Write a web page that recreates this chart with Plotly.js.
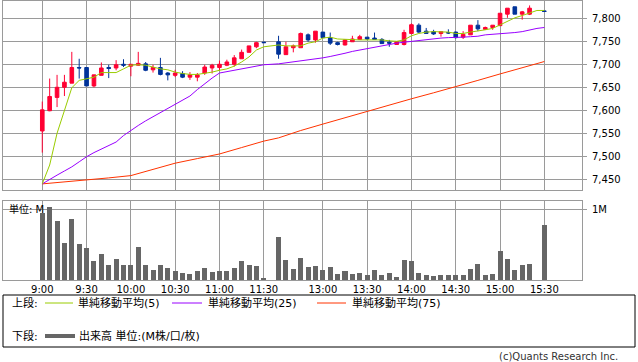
<!DOCTYPE html>
<html>
<head>
<meta charset="utf-8">
<script src="https://cdn.plot.ly/plotly-3.0.1.min.js"></script>
<style>html,body{margin:0;padding:0;background:#fff;}#chart{width:638px;height:362px;}</style>
</head>
<body>
<div id="chart"></div>
<script>
// Time slots (5-minute bars); 31 and 67 are empty slots on the axis
const slots = [0,1,2,3,4,5,6,7,8,9,10,11,12,13,14,15,16,17,18,19,20,21,22,23,24,25,26,27,28,29,30,
  32,33,34,35,36,37,38,39,40,41,42,43,44,45,46,47,48,49,50,51,52,53,54,55,56,57,58,59,60,61,62,63,64,65,66,68];
const openP  = [7555,7599,7628,7650,7659,7693,7693,7653,7676,7693,7692,7700,7696,7698,7701,7688,7693,7681,7676,7680,7672,7672,7681,7692,7693,7698,7700,7712,7726,7738,7748,
  7749,7721,7736,7736,7764,7753,7770,7758,7747,7742,7749,7754,7759,7757,7754,7748,7743,7743,7767,7785,7772,7771,7767,7769,7770,7759,7764,7785,7776,7780,7784,7809,7825,7809,7809,7816];
const highP  = [7619,7669,7677,7677,7727,7712,7693,7677,7704,7699,7709,7711,7700,7727,7705,7699,7714,7683,7688,7685,7683,7681,7699,7701,7708,7710,7720,7732,7740,7749,7749,
  7762,7749,7743,7769,7767,7772,7770,7769,7749,7754,7762,7764,7759,7769,7757,7753,7749,7775,7789,7789,7779,7775,7771,7776,7771,7772,7785,7796,7782,7785,7811,7822,7825,7816,7828,7816];
const lowP   = [7508,7598,7607,7631,7659,7669,7653,7650,7676,7670,7687,7694,7674,7697,7685,7682,7676,7665,7672,7670,7666,7663,7677,7680,7687,7696,7695,7712,7726,7735,7747,
  7712,7721,7726,7736,7749,7747,7757,7742,7741,7741,7749,7754,7753,7754,7745,7738,7742,7741,7765,7768,7767,7764,7760,7766,7756,7755,7764,7772,7775,7775,7784,7801,7809,7797,7807,7815];
const closeP = [7601,7630,7650,7661,7693,7692,7653,7677,7692,7691,7699,7698,7700,7702,7687,7693,7678,7677,7681,7672,7677,7677,7694,7698,7700,7705,7714,7726,7740,7747,7747,
  7722,7738,7740,7767,7753,7772,7758,7746,7743,7753,7755,7760,7755,7754,7745,7746,7749,7769,7786,7770,7767,7766,7771,7768,7758,7765,7785,7777,7780,7785,7811,7822,7809,7814,7822,7815];
// Volume in millions
const volume = [0.96,1.04,0.84,0.53,0.87,0.51,0.46,0.27,0.37,0.21,0.30,0.21,0.21,0.47,0.21,0.14,0.21,0.175,0.13,0.10,0.085,0.13,0.17,0.11,0.13,0.13,0.17,0.27,0.21,0.20,0.03,
  0.61,0.28,0.16,0.31,0.19,0.20,0.14,0.19,0.085,0.13,0.085,0.10,0.07,0.14,0.07,0.10,0.04,0.28,0.27,0.10,0.07,0.057,0.07,0.07,0.07,0.07,0.16,0.23,0.07,0.085,0.41,0.30,0.14,0.21,0.23,0.78];

// Moving averages
const maSlots = [0,1,2,3,4,5,6,7,8,9,10,11,12,13,14,15,16,17,18,19,20,21,22,23,24,25,26,27,28,29,30,
  32,33,34,35,36,37,38,39,40,41,42,43,44,45,46,47,48,49,50,51,52,53,54,55,56,57,58,59,60,61,62,63,64,65,66,67,68];
const ma5 = [7440,7481,7550,7597,7649,7665,7669,7672,7682,7682,7682,7690,7698,7699,7698,7694,7690,7688,7683,7680,7678,7678,7680,7683,7687,7690,7696,7705,7716,7731,7738,
  7742,7740,7740,7740,7746,7749,7757,7759,7755,7754,7754,7753,7753,7753,7753,7751,7750,7753,7762,7767,7770,7771,7771,7770,7767,7767,7770,7772,7775,7778,7786,7793,7801,7806,7811,7817,7817];
const ma25 = [7440,7450,7459,7468,7477,7488,7499,7508,7516,7524,7531,7545,7557,7567,7577,7586,7595,7603,7612,7621,7631,7645,7658,7670,7681,7684,7687,7690,7693,7696,7699,
  7701,7703,7705,7707,7709,7712,7714,7717,7720,7724,7728,7731,7734,7737,7741,7744,7746,7748,7750,7752,7753,7755,7757,7758,7758,7759,7760,7761,7764,7765,7766,7767,7769,7771,7775,7778,7780];
const ma75Slots = [0,3,6,9,12,15,18,21,24,27,30,32,35,38,41,44,47,50,53,56,59,62,65,68];
const ma75 = [7440,7444,7449,7453,7458,7471,7485,7495,7505,7519,7533,7540,7556,7570,7584,7598,7612,7625,7638,7651,7665,7679,7692,7706];

const tickSlots = [0,6,12,18,24,30,38,44,50,56,62,68];
const tickLabels = ['9:00','9:30','10:00','10:30','11:00','11:30','13:00','13:30','14:00','14:30','15:00','15:30'];
const priceTicks = [7450,7500,7550,7600,7650,7700,7750,7800];

const FONT = 'DejaVu Sans, Noto Sans CJK JP, sans-serif';
const GRID = '#9a9a9a';
// pixel -> paper helpers (plot area x: 3..582, y: 1..280)
const px = x => (x - 3) / 579;
const py = y => (280 - y) / 279;

const traces = [
  {type:'candlestick', x:slots, open:openP, high:highP, low:lowP, close:closeP, xaxis:'x', yaxis:'y',
   increasing:{line:{color:'#ff0033', width:1}, fillcolor:'#ff0033'},
   decreasing:{line:{color:'#003399', width:1}, fillcolor:'#003399'},
   whiskerwidth:0, hoverinfo:'skip'},
  {type:'scatter', mode:'lines', x:ma75Slots, y:ma75, xaxis:'x', yaxis:'y', line:{color:'#ff3300', width:1}, hoverinfo:'skip'},
  {type:'scatter', mode:'lines', x:maSlots, y:ma25, xaxis:'x', yaxis:'y', line:{color:'#9900ff', width:1}, hoverinfo:'skip'},
  {type:'scatter', mode:'lines', x:maSlots, y:ma5, xaxis:'x', yaxis:'y', line:{color:'#99cc00', width:1}, hoverinfo:'skip'},
  {type:'bar', x:slots, y:volume, xaxis:'x2', yaxis:'y2', width:0.68, marker:{color:'#666666', line:{width:0}}, hoverinfo:'skip'}
];

const xr = [-5.32, 73.1];
const axCommon = {showgrid:true, gridcolor:GRID, gridwidth:1, showline:true, mirror:true, linecolor:GRID, linewidth:1, zeroline:false, fixedrange:true};

const layout = {
  width:638, height:362,
  margin:{l:3, r:56, t:1, b:82, pad:0},
  paper_bgcolor:'#ffffff', plot_bgcolor:'#ffffff',
  showlegend:false,
  font:{family:FONT, size:10, color:'#000'},
  bargap:0,
  xaxis: Object.assign({}, axCommon, {domain:[0,1], anchor:'y', range:xr, tickmode:'array', tickvals:tickSlots, showticklabels:false, ticks:'', rangeslider:{visible:false}}),
  yaxis: Object.assign({}, axCommon, {domain:[py(190),1], anchor:'x', side:'right', range:[7426.7,7837.6], tickmode:'array', tickvals:priceTicks, tickformat:',d', ticks:'outside', ticklen:4, tickcolor:GRID, ticklabelstandoff:3, tickfont:{family:FONT, size:10, color:'#000'}}),
  xaxis2: Object.assign({}, axCommon, {domain:[0,1], anchor:'y2', range:xr, tickmode:'array', tickvals:tickSlots, ticktext:tickLabels, ticks:'', tickfont:{family:FONT, size:10, color:'#000'}}),
  yaxis2: Object.assign({}, axCommon, {domain:[0,py(201)], anchor:'x2', side:'right', range:[0,1.124], tickmode:'array', tickvals:[1], ticktext:['1M'], ticks:'outside', ticklen:4, tickcolor:GRID, ticklabelstandoff:3, tickfont:{family:FONT, size:10, color:'#000'}}),
  shapes:[
    {type:'rect', xref:'paper', yref:'paper', x0:px(3), x1:px(635), y0:py(295), y1:py(347), line:{color:'#000', width:1}, fillcolor:'rgba(0,0,0,0)'},
    {type:'line', xref:'paper', yref:'paper', x0:px(45), x1:px(73), y0:py(303), y1:py(303), line:{color:'#99cc00', width:1}},
    {type:'line', xref:'paper', yref:'paper', x0:px(172), x1:px(202), y0:py(303), y1:py(303), line:{color:'#9900ff', width:1}},
    {type:'line', xref:'paper', yref:'paper', x0:px(317), x1:px(346), y0:py(303), y1:py(303), line:{color:'#ff3300', width:1}},
    {type:'line', xref:'paper', yref:'paper', x0:px(45), x1:px(75), y0:py(336), y1:py(336), line:{color:'#666666', width:4}}
  ],
  annotations:[
    {xref:'paper', yref:'paper', x:px(7), y:py(209), xanchor:'left', yanchor:'middle', text:'単位: M', showarrow:false, font:{family:FONT, size:10, color:'#000'}},
    {xref:'paper', yref:'paper', x:px(10), y:py(303), xanchor:'left', yanchor:'middle', text:'上段:', showarrow:false, font:{family:FONT, size:11, color:'#000'}},
    {xref:'paper', yref:'paper', x:px(76), y:py(303), xanchor:'left', yanchor:'middle', text:'単純移動平均(5)', showarrow:false, font:{family:FONT, size:11, color:'#000'}},
    {xref:'paper', yref:'paper', x:px(206), y:py(303), xanchor:'left', yanchor:'middle', text:'単純移動平均(25)', showarrow:false, font:{family:FONT, size:11, color:'#000'}},
    {xref:'paper', yref:'paper', x:px(350), y:py(303), xanchor:'left', yanchor:'middle', text:'単純移動平均(75)', showarrow:false, font:{family:FONT, size:11, color:'#000'}},
    {xref:'paper', yref:'paper', x:px(10), y:py(336), xanchor:'left', yanchor:'middle', text:'下段:', showarrow:false, font:{family:FONT, size:11, color:'#000'}},
    {xref:'paper', yref:'paper', x:px(77), y:py(336), xanchor:'left', yanchor:'middle', text:'出来高 単位:(M株/口/枚)', showarrow:false, font:{family:FONT, size:11, color:'#000'}},
    {xref:'paper', yref:'paper', x:px(620), y:py(356), xanchor:'right', yanchor:'middle', text:'(c)Quants Research Inc.', showarrow:false, font:{family:FONT, size:10, color:'#333'}}
  ]
};

Plotly.newPlot('chart', traces, layout, {staticPlot:true, displayModeBar:false});
</script>
</body>
</html>
